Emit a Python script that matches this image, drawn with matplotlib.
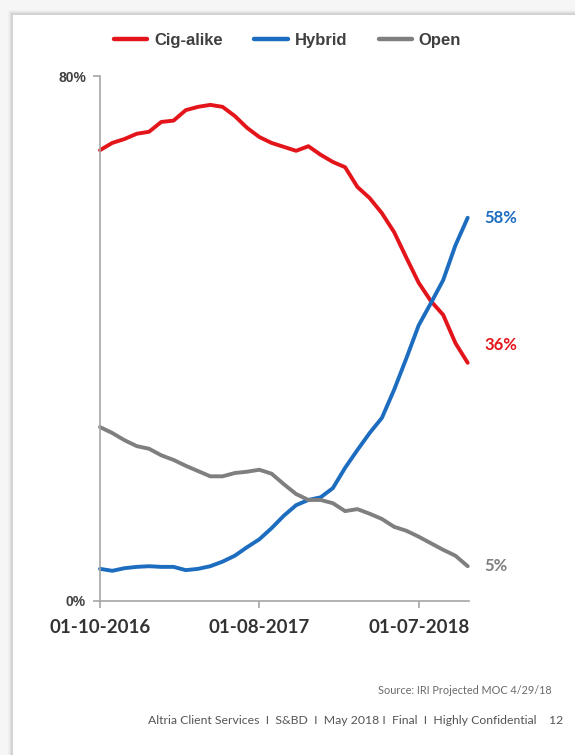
import matplotlib
matplotlib.use("Agg")
import matplotlib.pyplot as plt
import matplotlib.dates as mdates
from matplotlib.patches import Rectangle
import pandas as pd

# ---- data (weekly share, sampled every 4 weeks starting 2016-01-10) ----
start_date = "2016-01-10"
n_points = 31
cig_alike = [68.7, 69.8, 70.4, 71.2, 71.5, 73.0, 73.2, 74.8, 75.3, 75.6, 75.3,
             73.9, 72.1, 70.7, 69.8, 69.2, 68.6, 69.3, 68.0, 66.9, 66.1, 63.1,
             61.4, 59.1, 56.2, 52.3, 48.5, 45.7, 43.6, 39.3, 36.3]
hybrid = [4.9, 4.6, 5.0, 5.2, 5.3, 5.2, 5.2, 4.7, 4.9, 5.3, 6.0,
          6.9, 8.2, 9.4, 11.1, 13.0, 14.6, 15.4, 15.8, 17.2, 20.3, 23.0,
          25.6, 27.9, 32.2, 37.0, 42.0, 45.4, 48.9, 54.2, 58.4]
open_sys = [26.5, 25.6, 24.5, 23.6, 23.2, 22.2, 21.5, 20.6, 19.8, 19.0, 19.0,
            19.5, 19.7, 20.0, 19.4, 17.8, 16.3, 15.4, 15.4, 14.9, 13.7, 14.0,
            13.3, 12.5, 11.3, 10.7, 9.8, 8.8, 7.8, 6.9, 5.3]
series_names = ["Cig-alike", "Hybrid", "Open"]
end_labels = ["36%", "58%", "5%"]
tick_dates = ["2016-01-10", "2017-01-08", "2018-01-07"]
y_ticks = [0, 80]
y_tick_labels = ["0%", "80%"]
source_text = "Source: IRI Projected MOC 4/29/18"
footer_text = "Altria Client Services  I  S&BD  I  May 2018 I  Final  I  Highly Confidential    12"

dates = pd.date_range(start_date, periods=n_points, freq="28D")
colors = ["#E3151B", "#1C6CC0", "#7F7F7F"]

W, H = 575, 755
fig = plt.figure(figsize=(W / 100, H / 100), dpi=100)
fig.patch.set_facecolor("#f6f6f6")

# slide with soft shadow
for i, a in enumerate([0.05, 0.08, 0.12, 0.18]):
    off = 4 - i
    fig.add_artist(Rectangle(((12 - off) / W, 0), 1, 1 - (14 - off) / H,
                             transform=fig.transFigure, facecolor="#9a9a9a",
                             alpha=a, edgecolor="none", zorder=-10 + i))
fig.add_artist(Rectangle((13 / W, 0), 1, 1 - 15 / H, transform=fig.transFigure,
                         facecolor="white", edgecolor="none", zorder=-5))

ax = fig.add_axes([100 / W, 1 - 601 / H, (469 - 100) / W, (601 - 76) / H])
ax.set_facecolor("none")
ax.set_zorder(1)

data = [cig_alike, hybrid, open_sys]
lines = []
for vals, c, name in zip(data, colors, series_names):
    ln, = ax.plot(dates, vals, color=c, lw=2.8, solid_capstyle="round",
                  solid_joinstyle="round", label=name, clip_on=False)
    lines.append(ln)

ax.set_xlim(pd.Timestamp(start_date), dates[-1] + pd.Timedelta(days=3))
ax.set_ylim(0, 80)

for s in ["top", "right"]:
    ax.spines[s].set_visible(False)
for s in ["left", "bottom"]:
    ax.spines[s].set_color("#a6a6a6")
    ax.spines[s].set_linewidth(1.2)

ax.set_yticks(y_ticks)
ax.set_yticklabels(y_tick_labels, fontfamily="Liberation Sans",
                   fontweight="bold", fontsize=10, color="#404040")
ax.set_xticks([pd.Timestamp(d) for d in tick_dates])
ax.xaxis.set_major_formatter(mdates.DateFormatter("%m-%d-%Y"))
for lab in ax.get_xticklabels():
    lab.set_fontfamily("Lato")
    lab.set_fontweight("bold")
    lab.set_fontsize(13.5)
    lab.set_color("#333333")
ax.tick_params(axis="both", colors="#a6a6a6", length=5, width=1.2)
ax.tick_params(axis="x", labelcolor="#333333", pad=8)
ax.tick_params(axis="y", labelcolor="#404040", pad=5)

# end-of-line labels
offsets = [(12, 13), (12, 0), (12, 0)]
for vals, c, lab, off in zip(data, colors, end_labels, offsets):
    ax.annotate(lab, xy=(dates[-1], vals[-1]), xytext=off,
                textcoords="offset points", ha="left", va="center",
                color=c, fontsize=12, fontweight="bold", fontfamily="Lato")

leg = fig.legend(handles=lines, loc="center", bbox_to_anchor=(0.5, 1 - 40 / H),
                 ncol=3, frameon=False, handlelength=2.0, handletextpad=0.4,
                 columnspacing=1.9, prop={"family": "Liberation Sans",
                                         "weight": "bold", "size": 12})
for t in leg.get_texts():
    t.set_color("#404040")
for h in leg.legend_handles:
    h.set_linewidth(3.2)

fig.text(552 / W, 1 - 690 / H, source_text, ha="right", va="center",
         fontsize=7.8, color="#6a6a6a", fontfamily="Lato")
fig.text(563 / W, 1 - 720 / H, footer_text, ha="right", va="center",
         fontsize=8.8, color="#555555", fontfamily="Lato")

fig.savefig("out.png", dpi=100, facecolor=fig.get_facecolor())
